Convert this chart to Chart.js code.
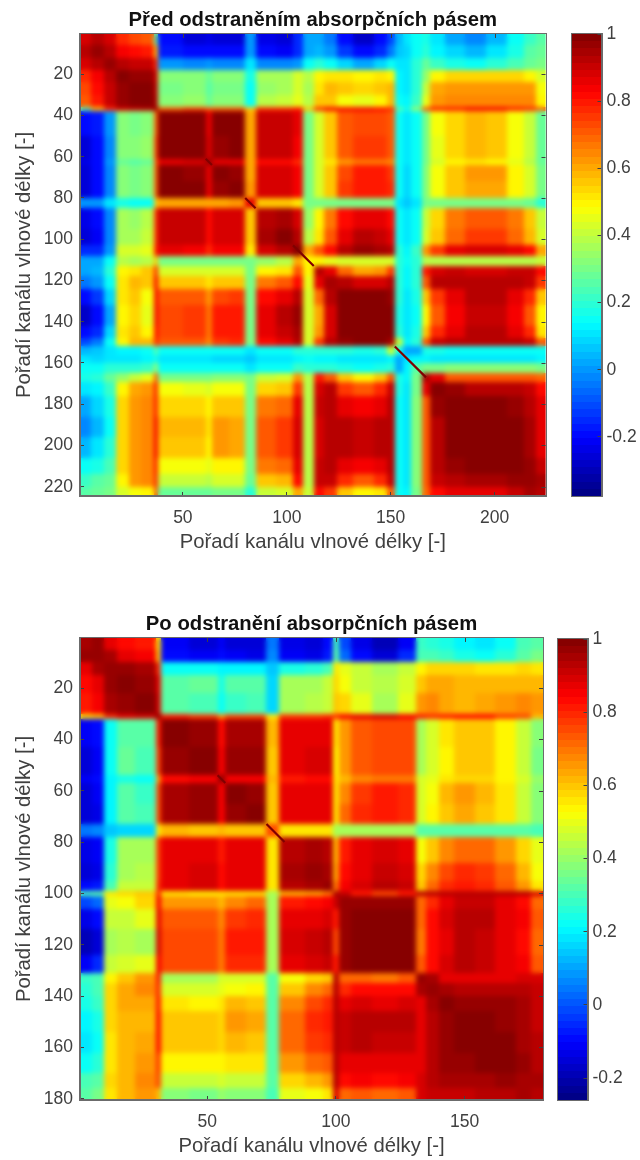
<!DOCTYPE html>
<html>
<head>
<meta charset="utf-8">
<title>Korelace kanálů</title>
<script src="https://cdn.jsdelivr.net/npm/chart.js@4"></script>
<style>
  html, body { margin: 0; padding: 0; background: #fff; }
  #page { position: relative; width: 640px; height: 1160px; overflow: hidden; }
  canvas { position: absolute; }
</style>
</head>
<body>
<div id="page">
  <canvas id="topHeat" width="624" height="556" style="left:0;top:0"></canvas>
  <canvas id="topBar" width="80" height="556" style="left:560px;top:0"></canvas>
  <canvas id="botHeat" width="624" height="556" style="left:0;top:604px"></canvas>
  <canvas id="botBar" width="80" height="556" style="left:546px;top:604px"></canvas>
</div>
<script>
// --- Values ---
const TITLE_TOP = 'Před odstraněním absorpčních pásem';
const TITLE_BOT = 'Po odstranění absorpčních pásem';
const X_LABEL = 'Pořadí kanálu vlnové délky [-]';
const Y_LABEL = 'Pořadí kanálu vlnové délky [-]';

const topXTicks = [50, 100, 150, 200];
const topYTicks = [20, 40, 60, 80, 100, 120, 140, 160, 180, 200, 220];
const botXTicks = [50, 100, 150];
const botYTicks = [20, 40, 60, 80, 100, 120, 140, 160, 180];
const barTicks = [-0.2, 0, 0.2, 0.4, 0.6, 0.8, 1];

const topCount = 224;
const botCount = 180;
const topMin = -0.376;
const botMin = -0.26;

// band edges in channel numbers
const topEdges = [0.5, 6, 12, 18, 24, 30, 36, 38, 50, 61, 64, 72, 80, 85, 95, 103, 108, 113, 118, 124, 132, 142, 148, 152, 156, 160, 165, 169, 176, 186, 196, 206, 214, 220, 224.5];
const botEdges = [0.5, 5, 10, 15, 22, 30, 32, 43, 54, 57, 65, 73, 78, 88, 95, 99, 101, 106, 114, 124, 131, 135, 140, 146, 154, 162, 170, 176, 180.5];

// stretches where the diagonal of ones stands out from its surroundings
const topDiagonal = [[61, 64], [80, 85], [103, 113], [152, 167]];
const botDiagonal = [[54, 57], [73, 80]];

// correlation per band pair, upper triangle (each row starts at the diagonal)
const topRows = [
  [.88,.93,.88,.78,.74,.72,.25,-.2,-.25,-.24,-.25,-.25,0,-.24,-.26,-.15,.02,.02,-.05,-.2,-.27,-.2,-.1,.05,.1,.15,.18,.1,.02,-.02,.05,.15,.22,.25],
  [.97,.93,.84,.82,.8,.55,-.17,-.2,-.2,-.2,-.2,0,-.2,-.22,-.15,.03,.05,0,-.12,-.2,-.14,-.05,.06,.08,.15,.2,.13,.08,.05,.1,.18,.25,.27],
  [.97,.93,.9,.9,.78,0,-.02,0,-.02,-.02,.1,-.02,-.03,0,.14,.2,.15,.08,.03,.08,.14,.1,.1,.2,.28,.22,.18,.16,.2,.24,.28,.3],
  [.98,.97,.96,.88,.32,.33,.28,.32,.32,.17,.36,.37,.42,.38,.5,.52,.52,.5,.52,.5,.13,.1,.2,.35,.5,.53,.54,.54,.53,.5,.42],
  [.99,.98,.9,.3,.32,.26,.3,.3,.15,.35,.37,.43,.36,.52,.58,.56,.53,.55,.57,.13,.1,.2,.4,.6,.63,.62,.62,.63,.62,.48],
  [.98,.92,.33,.35,.28,.33,.33,.16,.38,.4,.45,.38,.55,.55,.48,.46,.5,.58,.15,.12,.22,.45,.62,.65,.64,.64,.65,.65,.5],
  [1,.72,.75,.7,.72,.72,.55,.78,.78,.8,.55,.78,.83,.84,.84,.82,.78,.25,.18,.35,.72,.8,.8,.84,.84,.8,.78,.7],
  [.99,.98,.85,.98,.98,.6,.9,.9,.85,.3,.42,.55,.7,.74,.74,.72,.14,.1,.14,.3,.47,.54,.57,.55,.48,.4,.28],
  [.99,.88,.97,.98,.6,.9,.9,.84,.3,.42,.55,.7,.75,.75,.72,.14,.1,.14,.3,.46,.54,.57,.55,.48,.4,.28],
  [1,.86,.86,.6,.82,.82,.78,.3,.42,.52,.62,.66,.66,.64,.15,.1,.15,.3,.44,.5,.52,.5,.45,.38,.27],
  [.99,.97,.6,.88,.88,.84,.3,.42,.55,.74,.8,.8,.76,.14,.09,.14,.32,.48,.56,.62,.62,.5,.42,.3],
  [.99,.62,.88,.88,.84,.3,.42,.55,.75,.8,.8,.78,.14,.09,.14,.32,.48,.55,.6,.6,.5,.42,.3],
  [.85,.55,.55,.52,.3,.3,.3,.3,.3,.3,.3,.1,.06,.1,.3,.3,.3,.3,.3,.3,.28,.2],
  [.93,.95,.88,.35,.5,.66,.82,.86,.86,.82,.14,.1,.14,.4,.53,.66,.72,.72,.66,.55,.4],
  [.98,.92,.38,.52,.7,.86,.92,.9,.86,.15,.1,.15,.42,.56,.68,.75,.76,.68,.58,.42],
  [.98,.6,.7,.82,.93,.96,.95,.92,.2,.12,.22,.62,.75,.85,.88,.88,.86,.82,.6],
  [.5,.5,.45,.42,.42,.42,.42,.2,.14,.2,.38,.38,.38,.38,.38,.38,.38,.4],
  [.92,.85,.68,.6,.62,.75,.2,.12,.2,.8,.88,.9,.88,.88,.9,.9,.82],
  [.95,.92,.88,.88,.92,.2,.12,.2,.72,.92,.93,.92,.92,.93,.9,.75],
  [.99,.99,.99,.97,.2,.1,.18,.55,.75,.86,.92,.92,.86,.78,.55],
  [1,.99,.98,.18,.1,.16,.5,.7,.84,.9,.9,.84,.72,.5],
  [1,.98,.2,.1,.18,.55,.78,.86,.92,.92,.86,.78,.52],
  [.95,.4,.12,.2,.72,.9,.92,.93,.93,.92,.9,.72],
  [.18,.02,.03,.18,.18,.16,.15,.15,.15,.16,.16],
  [.1,.12,.12,.1,.1,.1,.1,.1,.1,.12],
  [.25,.3,.3,.33,.33,.33,.33,.33,.3],
  [.95,.85,.72,.7,.7,.7,.72,.68],
  [.98,.97,.92,.92,.92,.9,.82],
  [1,.98,.98,.96,.92,.85],
  [1,1,.98,.94,.86],
  [1,.98,.94,.86],
  [.99,.97,.9],
  [.97,.95],
  [.93]
];

const botRows = [
  [.96,.97,.87,.84,.82,.55,-.12,-.15,-.12,-.15,-.15,.05,-.14,-.15,-.1,.3,-.02,-.14,-.2,-.12,.28,.27,.25,.2,.18,.22,.3,.33],
  [.98,.96,.88,.86,.6,-.1,-.12,-.1,-.12,-.13,.07,-.12,-.13,-.08,.33,.02,-.1,-.15,-.06,.3,.3,.28,.24,.22,.26,.33,.36],
  [.98,.97,.96,.8,.22,.22,.2,.2,.2,.15,.25,.27,.3,.55,.5,.45,.42,.45,.53,.57,.57,.57,.55,.56,.57,.55],
  [.99,.98,.88,.33,.34,.24,.33,.33,.17,.42,.42,.45,.57,.52,.46,.44,.48,.6,.63,.63,.62,.61,.62,.62,.62],
  [.99,.9,.32,.31,.22,.28,.3,.17,.42,.43,.45,.6,.58,.5,.42,.5,.65,.67,.64,.61,.64,.66,.67,.65],
  [1,.82,.78,.65,.75,.75,.55,.78,.78,.8,.8,.85,.88,.9,.86,.82,.8,.82,.84,.84,.78,.75,.62],
  [.99,.98,.84,.95,.95,.62,.88,.88,.88,.55,.66,.74,.76,.76,.42,.47,.55,.6,.6,.53,.46,.38],
  [.99,.85,.97,.97,.6,.88,.9,.9,.53,.65,.74,.76,.75,.42,.47,.54,.6,.6,.53,.46,.36],
  [1,.86,.86,.62,.82,.84,.84,.55,.62,.68,.7,.7,.48,.5,.55,.58,.58,.53,.47,.4],
  [.99,.98,.6,.88,.88,.88,.55,.68,.78,.82,.8,.47,.52,.62,.66,.62,.55,.46,.38],
  [.99,.6,.88,.88,.88,.55,.72,.8,.82,.8,.48,.53,.6,.64,.6,.55,.45,.37],
  [.75,.55,.56,.56,.42,.42,.42,.42,.42,.32,.32,.32,.32,.32,.32,.32,.3],
  [.94,.96,.94,.62,.82,.88,.9,.88,.52,.6,.68,.72,.72,.66,.58,.5],
  [.98,.96,.64,.84,.88,.92,.9,.58,.68,.76,.8,.78,.72,.62,.52],
  [.98,.7,.86,.9,.93,.92,.6,.72,.8,.82,.8,.74,.66,.56],
  [.95,.92,.82,.76,.82,.93,.94,.93,.93,.93,.93,.93,.9],
  [.98,.98,.98,.98,.72,.8,.88,.92,.92,.88,.84,.72],
  [1,.99,.99,.72,.84,.9,.93,.93,.88,.85,.74],
  [1,1,.7,.84,.88,.93,.92,.87,.84,.72],
  [1,.73,.84,.9,.93,.92,.88,.85,.74],
  [.98,.95,.88,.88,.88,.88,.9,.9],
  [.98,.96,.93,.93,.93,.93,.92],
  [.99,.98,.98,.97,.95,.92],
  [1,1,.98,.95,.92],
  [1,.99,.96,.93],
  [.99,.97,.94],
  [.96,.95],
  [.94]
];

// --- Helpers ---
const FONT = '"Liberation Sans", Arial, sans-serif';
const TEXT_COLOR = '#404040';
const LEVELS = 64;

function clamp01(v) { return Math.max(0, Math.min(1, v)); }

// MATLAB style jet, 64 steps
function jet(t) {
  const q = (Math.min(LEVELS - 1, Math.floor(clamp01(t) * LEVELS)) + 0.5) / LEVELS;
  const r = clamp01(Math.min(4 * q - 1.5, -4 * q + 4.5));
  const g = clamp01(Math.min(4 * q - 0.5, -4 * q + 3.5));
  const b = clamp01(Math.min(4 * q + 0.5, -4 * q + 2.5));
  return `rgb(${Math.round(r * 255)},${Math.round(g * 255)},${Math.round(b * 255)})`;
}

function bandCells(edges, rows) {
  const cells = [];
  rows.forEach((row, i) => {
    row.forEach((v, k) => {
      const j = i + k;
      const add = (a, b) => cells.push({
        x: (edges[a] + edges[a + 1]) / 2, y: (edges[b] + edges[b + 1]) / 2,
        x0: edges[a], x1: edges[a + 1], y0: edges[b], y1: edges[b + 1], v
      });
      add(j, i);
      if (i !== j) add(i, j);
    });
  });
  return cells;
}

function barCells(min) {
  const cells = [];
  const step = (1 - min) / LEVELS;
  for (let i = 0; i < LEVELS; i++) {
    const y0 = min + i * step;
    cells.push({ x: 0.5, y: y0 + step / 2, x0: 0, x1: 1, y0, y1: y0 + step, v: y0 + step / 2 });
  }
  return cells;
}

// start and end of each stretch, with a gap between stretches
function diagonalPoints(stretches) {
  const pts = [];
  stretches.forEach(([a, b]) => {
    pts.push({ x: a, y: a }, { x: b, y: b }, { x: b, y: null });
  });
  return pts;
}

// paints the cell dataset through the chart's scales
const heatPlugin = {
  id: 'heat',
  beforeDatasetsDraw(chart) {
    const ds = chart.data.datasets[0];
    const { ctx, chartArea: a, scales: { x, y } } = chart;
    const off = document.createElement('canvas');
    off.width = chart.width;
    off.height = chart.height;
    const o = off.getContext('2d');
    ds.data.forEach(c => {
      const px0 = Math.round(x.getPixelForValue(c.x0));
      const px1 = Math.round(x.getPixelForValue(c.x1));
      const py0 = Math.round(y.getPixelForValue(c.y0));
      const py1 = Math.round(y.getPixelForValue(c.y1));
      o.fillStyle = jet((c.v - ds.valueMin) / (1 - ds.valueMin));
      o.fillRect(Math.min(px0, px1), Math.min(py0, py1), Math.abs(px1 - px0), Math.abs(py1 - py0));
    });
    ctx.save();
    ctx.beginPath();
    ctx.rect(a.left, a.top, a.width, a.height);
    ctx.clip();
    ctx.drawImage(off, 0, 0);
    if (ds.blur) {
      ctx.filter = `blur(${ds.blur}px)`;
      ctx.drawImage(off, 0, 0);
    }
    ctx.restore();
  },
  // box around the plot and the mirrored ticks on the far sides
  afterDatasetsDraw(chart) {
    const { ctx, chartArea: a, scales: { x, y } } = chart;
    ctx.save();
    ctx.strokeStyle = '#6b6b6b';
    ctx.lineWidth = 1;
    ctx.strokeRect(Math.round(a.left) - 0.5, Math.round(a.top) - 0.5, Math.round(a.width) + 1, Math.round(a.height) + 1);
    if (x.options.display) {
      ctx.strokeStyle = '#404040';
      ctx.beginPath();
      x.ticks.forEach(t => {
        const px = Math.round(x.getPixelForValue(t.value)) + 0.5;
        ctx.moveTo(px, a.top);
        ctx.lineTo(px, a.top + 4);
      });
      y.ticks.forEach(t => {
        const py = Math.round(y.getPixelForValue(t.value)) + 0.5;
        ctx.moveTo(a.right, py);
        ctx.lineTo(a.right - 4, py);
      });
      ctx.stroke();
    }
    ctx.restore();
  }
};

function tickOptions(extra) {
  return Object.assign({
    color: TEXT_COLOR,
    font: { family: FONT, size: 17.5 },
    autoSkip: false,
    maxRotation: 0,
    callback: v => String(v)
  }, extra);
}

function heatChart(id, title, edges, rows, diagonal, count, min, xTicks, yTicks, plotRight) {
  return new Chart(document.getElementById(id), {
    type: 'scatter',
    plugins: [heatPlugin],
    data: {
      datasets: [
        { data: bandCells(edges, rows), valueMin: min, blur: 2.4, pointRadius: 0, showLine: false },
        { data: diagonalPoints(diagonal), showLine: true, spanGaps: false, pointRadius: 0, borderColor: '#800000', borderWidth: 2.2 }
      ]
    },
    options: {
      responsive: false,
      animation: false,
      events: [],
      layout: { padding: { left: 0, right: 624 - plotRight, top: 0, bottom: 1 } },
      plugins: {
        legend: { display: false },
        tooltip: { enabled: false },
        title: {
          display: true,
          fullSize: false,
          text: title,
          color: '#111',
          font: { family: FONT, size: 20.3, weight: 'bold', lineHeight: 1.2 },
          padding: { top: 8, bottom: 1.6 }
        }
      },
      scales: {
        x: {
          type: 'linear', min: 0.5, max: count + 0.5,
          afterBuildTicks: s => { s.ticks = xTicks.map(value => ({ value })); },
          afterFit: s => { s.height = 59; },
          grid: { drawOnChartArea: false, tickLength: -4, color: '#404040', z: 1 },
          border: { color: '#6b6b6b', z: 1 },
          ticks: tickOptions({ padding: 16 }),
          title: { display: true, text: X_LABEL, color: TEXT_COLOR, font: { family: FONT, size: 20.3, lineHeight: 1.2 }, padding: { top: 0, bottom: 0 } }
        },
        y: {
          type: 'linear', reverse: true, min: 0.5, max: count + 0.5,
          afterBuildTicks: s => { s.ticks = yTicks.map(value => ({ value })); },
          afterFit: s => { s.width = 80; },
          grid: { drawOnChartArea: false, tickLength: -4, color: '#404040', z: 1 },
          border: { color: '#6b6b6b', z: 1 },
          ticks: tickOptions({ padding: 11 }),
          title: { display: true, text: Y_LABEL, color: TEXT_COLOR, font: { family: FONT, size: 20.3, lineHeight: 1.2 }, padding: { top: 12, bottom: 0 } }
        }
      }
    }
  });
}

function colorBar(id, min, padLeft, padTop, padBottom) {
  return new Chart(document.getElementById(id), {
    type: 'scatter',
    plugins: [heatPlugin],
    data: { datasets: [{ data: barCells(min), valueMin: min, pointRadius: 0, showLine: false }] },
    options: {
      responsive: false,
      animation: false,
      events: [],
      layout: { padding: { left: padLeft, right: 0, top: padTop, bottom: padBottom } },
      plugins: { legend: { display: false }, tooltip: { enabled: false } },
      scales: {
        x: { type: 'linear', display: false, min: 0, max: 1 },
        y: {
          type: 'linear', position: 'right', min: min, max: 1,
          afterBuildTicks: s => { s.ticks = barTicks.map(value => ({ value })); },
          afterFit: s => { s.width = 38.5; },
          grid: { drawOnChartArea: false, tickLength: -4, color: '#404040', z: 1 },
          border: { color: '#6b6b6b', z: 1 },
          ticks: tickOptions({ padding: 9 })
        }
      }
    }
  });
}

document.fonts.ready.then(() => {
  heatChart('topHeat', TITLE_TOP, topEdges, topRows, topDiagonal, topCount, topMin, topXTicks, topYTicks, 545.5);
  heatChart('botHeat', TITLE_BOT, botEdges, botRows, botDiagonal, botCount, botMin, botXTicks, botYTicks, 543);
  colorBar('topBar', topMin, 12, 34, 60);
  colorBar('botBar', botMin, 12, 35, 60);
});
</script>
</body>
</html>
